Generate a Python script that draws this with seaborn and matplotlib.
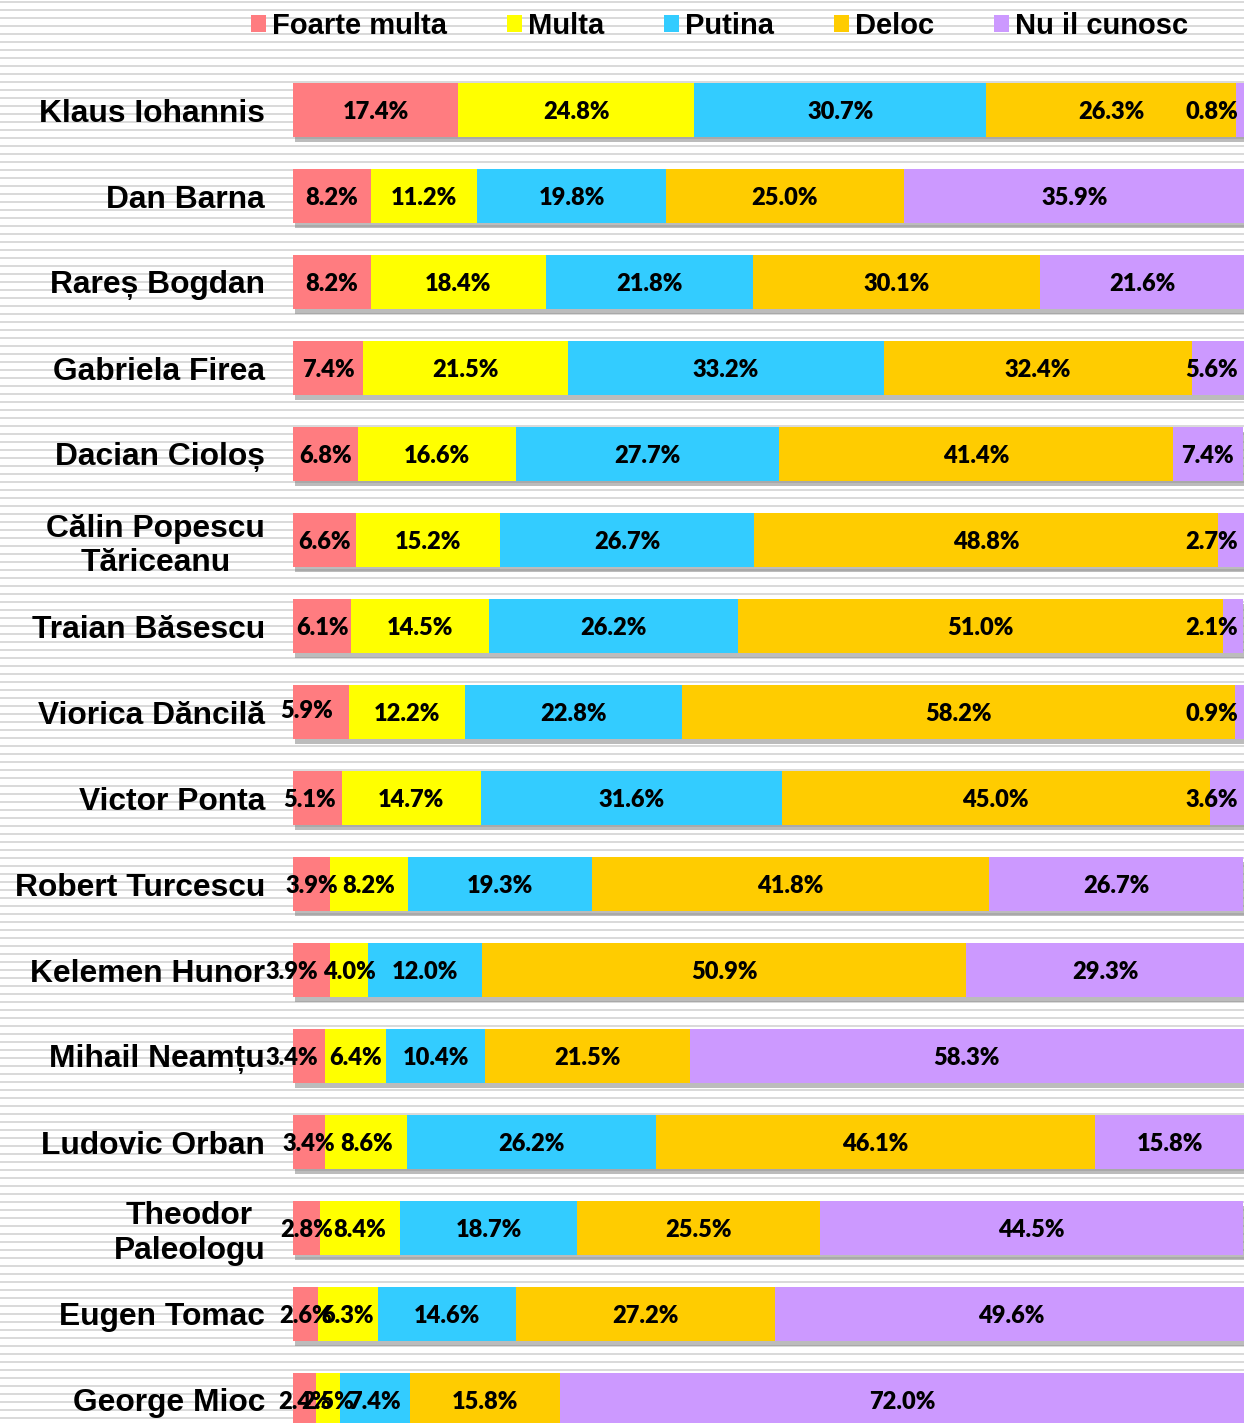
import numpy as np
import seaborn as sns
import matplotlib.pyplot as plt
import matplotlib.patheffects as pe
from matplotlib.patches import Patch

# === data
names = ['Klaus Iohannis', 'Dan Barna', 'Rareș Bogdan', 'Gabriela Firea', 'Dacian Cioloș',
         'Călin Popescu\nTăriceanu', 'Traian Băsescu', 'Viorica Dăncilă', 'Victor Ponta',
         'Robert Turcescu', 'Kelemen Hunor', 'Mihail Neamțu', 'Ludovic Orban',
         'Theodor\nPaleologu', 'Eugen Tomac', 'George Mioc']
series = ['Foarte multa', 'Multa', 'Putina', 'Deloc', 'Nu il cunosc']

foarte_multa = [17.4, 8.2, 8.2, 7.4, 6.8, 6.6, 6.1, 5.9, 5.1, 3.9, 3.9, 3.4, 3.4, 2.8, 2.6, 2.4]
multa        = [24.8, 11.2, 18.4, 21.5, 16.6, 15.2, 14.5, 12.2, 14.7, 8.2, 4.0, 6.4, 8.6, 8.4, 6.3, 2.5]
putina       = [30.7, 19.8, 21.8, 33.2, 27.7, 26.7, 26.2, 22.8, 31.6, 19.3, 12.0, 10.4, 26.2, 18.7, 14.6, 7.4]
deloc        = [26.3, 25.0, 30.1, 32.4, 41.4, 48.8, 51.0, 58.2, 45.0, 41.8, 50.9, 21.5, 46.1, 25.5, 27.2, 15.8]
nu_cunosc    = [0.8, 35.9, 21.6, 5.6, 7.4, 2.7, 2.1, 0.9, 3.6, 26.7, 29.3, 58.3, 15.8, 44.5, 49.6, 72.0]

colors = ['#FF7C80', '#FFFF00', '#33CCFF', '#FFCC00', '#CC99FF']

# hand-nudged labels in the original (row, series) -> (dx px, dy px)
nudges = {(7, 0): (-14, 3), (8, 0): (-8, 0), (10, 0): (-20, 0), (11, 0): (-17, 0)}

vals = np.array([foarte_multa, multa, putina, deloc, nu_cunosc]).T
cum = vals.cumsum(axis=1)

W, H = 1244, 1423
fig = plt.figure(figsize=(W / 100, H / 100), dpi=100)
fig.patch.set_facecolor('white')

# === striped background
bg = fig.add_axes([0, 0, 1, 1], zorder=-1)
bg.set_xlim(0, W)
bg.set_ylim(H, 0)
bg.hlines(np.arange(1.9, H, 8), 0, W, color='#d9d9d9', lw=1.4)
bg.axis('off')

left = 293 / W
ax = fig.add_axes([left, 0, 1 - left, 1])
ax.set_facecolor('none')

# stacked bars: draw cumulative totals from longest to shortest
for k in reversed(range(5)):
    sns.barplot(x=cum[:, k], y=names, color=colors[k], saturation=1, width=0.63,
                orient='h', ax=ax, edgecolor='none', linewidth=0)

for p in ax.containers[0]:
    p.set_path_effects([pe.SimplePatchShadow(offset=(1.5, -3.5), shadow_rgbFace='#7a7a7a', alpha=0.5),
                        pe.Normal()])

ax.set_xlim(0, 100)
ax.set_ylim((H - 110) / 86, -110 / 86)
ax.set_xlabel('')
ax.set_ylabel('')
ax.set_xticks([])
for s in ax.spines.values():
    s.set_visible(False)
ax.tick_params(axis='y', length=0, pad=20)
for t in ax.get_yticklabels():
    t.set_fontfamily('Liberation Sans')
    t.set_fontweight('bold')
    t.set_fontsize(22.9)
    t.set_multialignment('center')

# === data labels
px = 100 / (W - 293)   # data units per pixel along x
py = 1 / 86
for i in range(len(names)):
    for k in range(5):
        v = vals[i, k]
        c = cum[i, k] - v / 2
        txt = f"{v:.1f}%"
        half = (26 if v < 10 else 33) * px
        ha = 'center'
        if c + half > 99.4:
            c, ha = 99.4, 'right'
        dx, dy = nudges.get((i, k), (0, 0))
        ax.text(c + dx * px, i - dy * py, txt, ha=ha, va='center_baseline',
                fontsize=17, fontweight='heavy', family='Lato', color='black')

# === legend
handles = [Patch(facecolor=c, edgecolor='none') for c in colors]
fig.legend(handles, series, loc='center', bbox_to_anchor=(719.5 / W, 1 - 26 / H), ncol=5,
           frameon=False, handlelength=0.52, handleheight=0.52, handletextpad=0.2,
           columnspacing=2.05, borderpad=0, borderaxespad=0,
           prop={'family': 'Liberation Sans', 'weight': 'bold', 'size': 21})

fig.savefig('out.png', dpi=100, facecolor='white')
